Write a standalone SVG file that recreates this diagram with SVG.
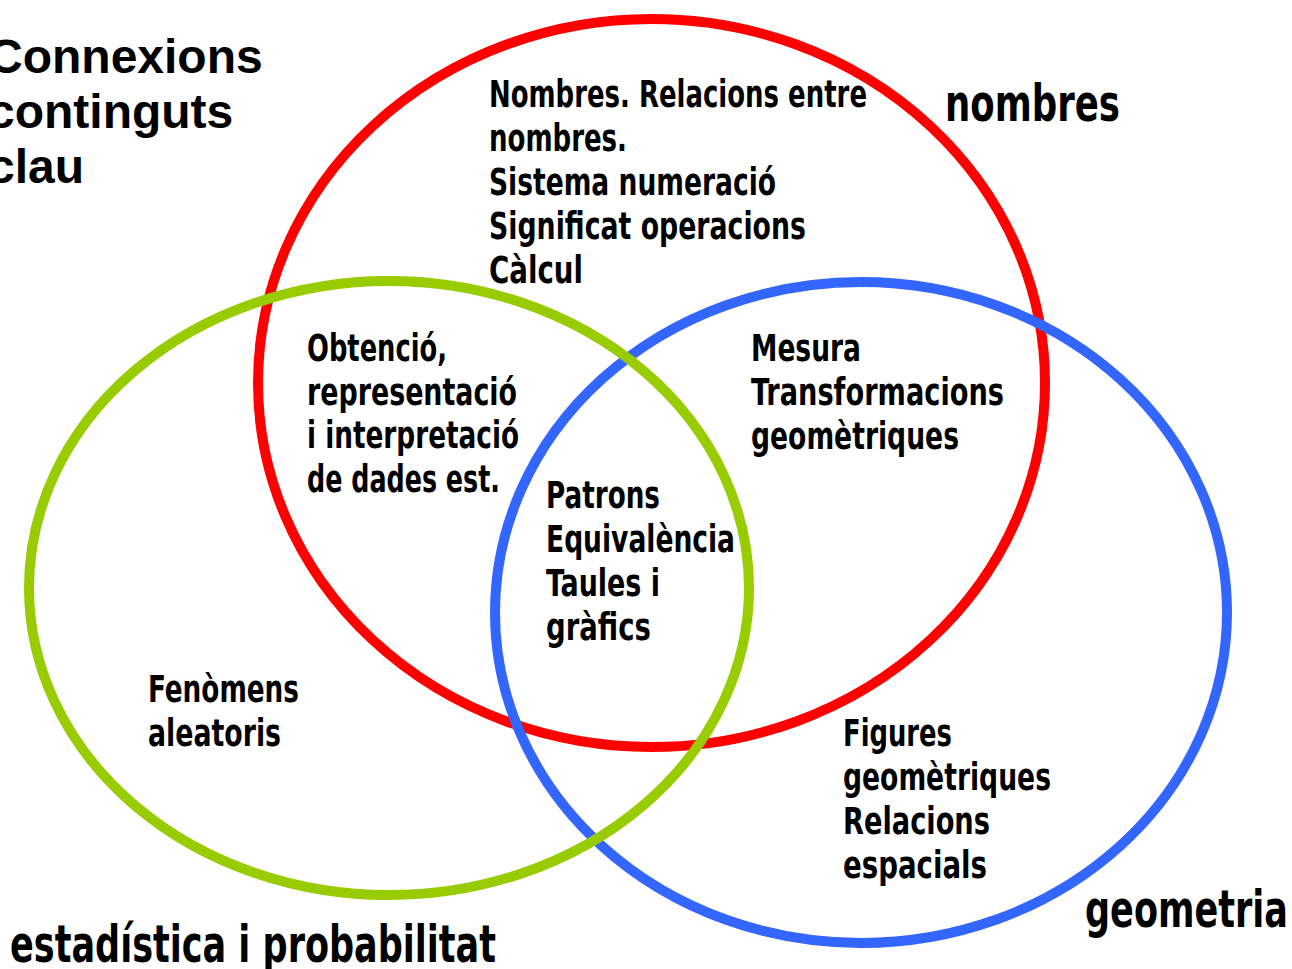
<svg xmlns="http://www.w3.org/2000/svg" width="1292" height="969" viewBox="0 0 1292 969">
<style>
.ring{fill:none;stroke-width:10}
.t{font-family:"Liberation Sans Narrow","DejaVu Sans Condensed",sans-serif;font-weight:bold;font-size:30px;fill:#000}
.big{font-family:"Liberation Sans Narrow","DejaVu Sans Condensed",sans-serif;font-weight:bold;font-size:41px;fill:#000}
.title{font-family:"Liberation Sans",Arial,sans-serif;font-weight:bold;font-size:48px;fill:#000}
</style>
<rect width="1292" height="969" fill="#fff"/>
<g id="circles">
<ellipse id="nombres-set" class="ring" cx="651.5" cy="383" rx="393.5" ry="364" stroke="#FF0000"/>
<ellipse id="geometria-set" class="ring" cx="861" cy="612.5" rx="366" ry="330.5" stroke="#3366FF"/>
<ellipse id="estadistica-set" class="ring" cx="389" cy="588" rx="360" ry="307" stroke="#99CC00"/>
</g>
<g id="title" class="title">
<text x="-12" y="73">Connexions</text>
<text x="-12" y="128">continguts</text>
<text x="-12" y="183">clau</text>
</g>
<g id="label-nombres"><text class="big" transform="translate(945,121) scale(1,1.27)" textLength="175" lengthAdjust="spacingAndGlyphs">nombres</text></g>
<g id="label-geometria"><text class="big" transform="translate(1085,927) scale(1,1.27)" textLength="203" lengthAdjust="spacingAndGlyphs">geometria</text></g>
<g id="label-estadistica"><text class="big" transform="translate(10,962) scale(1,1.27)" textLength="486" lengthAdjust="spacingAndGlyphs">estadística i probabilitat</text></g>
<g id="node-nombres" class="t">
<text transform="translate(489,107) scale(1,1.27)" textLength="378" lengthAdjust="spacingAndGlyphs">Nombres. Relacions entre</text>
<text transform="translate(489,151) scale(1,1.27)" textLength="138" lengthAdjust="spacingAndGlyphs">nombres.</text>
<text transform="translate(489,195) scale(1,1.27)" textLength="287" lengthAdjust="spacingAndGlyphs">Sistema numeració</text>
<text transform="translate(489,239) scale(1,1.27)" textLength="317" lengthAdjust="spacingAndGlyphs">Significat operacions</text>
<text transform="translate(489,283) scale(1,1.27)" textLength="94" lengthAdjust="spacingAndGlyphs">Càlcul</text>
</g>
<g id="node-nombres-estadistica" class="t">
<text transform="translate(307,361) scale(1,1.27)" textLength="140" lengthAdjust="spacingAndGlyphs">Obtenció,</text>
<text transform="translate(307,405) scale(1,1.27)" textLength="210" lengthAdjust="spacingAndGlyphs">representació</text>
<text transform="translate(307,448) scale(1,1.27)" textLength="212" lengthAdjust="spacingAndGlyphs">i interpretació</text>
<text transform="translate(307,492) scale(1,1.27)" textLength="193" lengthAdjust="spacingAndGlyphs">de dades est.</text>
</g>
<g id="node-nombres-geometria" class="t">
<text transform="translate(751,361) scale(1,1.27)" textLength="110" lengthAdjust="spacingAndGlyphs">Mesura</text>
<text transform="translate(751,405) scale(1,1.27)" textLength="253" lengthAdjust="spacingAndGlyphs">Transformacions</text>
<text transform="translate(751,449) scale(1,1.27)" textLength="208" lengthAdjust="spacingAndGlyphs">geomètriques</text>
</g>
<g id="node-centre" class="t">
<text transform="translate(546,508) scale(1,1.27)" textLength="114" lengthAdjust="spacingAndGlyphs">Patrons</text>
<text transform="translate(546,552) scale(1,1.27)" textLength="189" lengthAdjust="spacingAndGlyphs">Equivalència</text>
<text transform="translate(546,596) scale(1,1.27)" textLength="114" lengthAdjust="spacingAndGlyphs">Taules i</text>
<text transform="translate(546,640) scale(1,1.27)" textLength="105" lengthAdjust="spacingAndGlyphs">gràfics</text>
</g>
<g id="node-estadistica" class="t">
<text transform="translate(148,702) scale(1,1.27)" textLength="151" lengthAdjust="spacingAndGlyphs">Fenòmens</text>
<text transform="translate(148,746) scale(1,1.27)" textLength="133" lengthAdjust="spacingAndGlyphs">aleatoris</text>
</g>
<g id="node-geometria" class="t">
<text transform="translate(843,746) scale(1,1.27)" textLength="109" lengthAdjust="spacingAndGlyphs">Figures</text>
<text transform="translate(843,790) scale(1,1.27)" textLength="208" lengthAdjust="spacingAndGlyphs">geomètriques</text>
<text transform="translate(843,834) scale(1,1.27)" textLength="147" lengthAdjust="spacingAndGlyphs">Relacions</text>
<text transform="translate(843,878) scale(1,1.27)" textLength="144" lengthAdjust="spacingAndGlyphs">espacials</text>
</g>
</svg>
